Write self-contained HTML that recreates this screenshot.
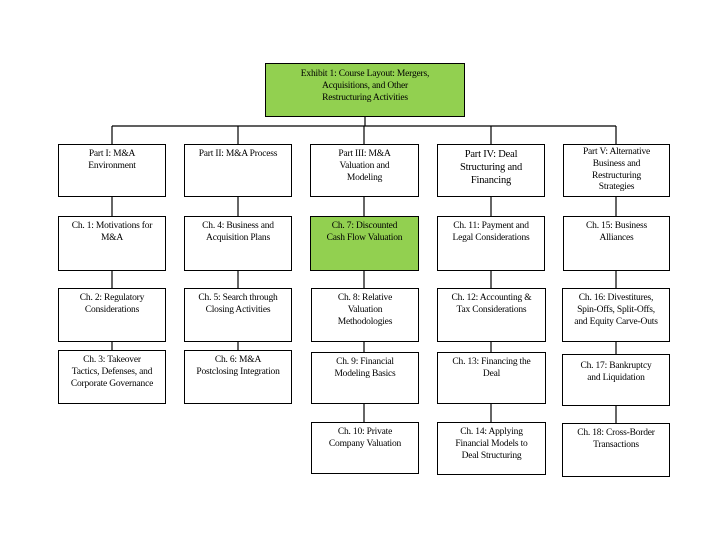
<!DOCTYPE html>
<html><head><meta charset="utf-8"><style>
body{margin:0;width:720px;height:540px;background:#fff;position:relative;overflow:hidden;font-family:"Liberation Serif",serif;}
.b{position:absolute;box-sizing:border-box;border:1px solid #000;background:#fff;text-align:center;font-size:9.5px;line-height:12px;padding-top:3px;color:#000;letter-spacing:-0.2px}
.g{background:#92d050}
svg{position:absolute;left:0;top:0}
</style></head><body>
<svg width="720" height="540"><g stroke="#000" stroke-width="1.2" fill="none">
<line x1="365" y1="117" x2="365" y2="126"/>
<line x1="112" y1="126" x2="616" y2="126"/>
<line x1="112" y1="126" x2="112" y2="144"/>
<line x1="238" y1="126" x2="238" y2="144"/>
<line x1="364" y1="126" x2="364" y2="144"/>
<line x1="491" y1="126" x2="491" y2="144"/>
<line x1="616" y1="126" x2="616" y2="144"/>
<line x1="112" y1="197" x2="112" y2="350"/>
<line x1="238" y1="197" x2="238" y2="350"/>
<line x1="364" y1="197" x2="364" y2="422"/>
<line x1="491" y1="197" x2="491" y2="422"/>
<line x1="616" y1="197" x2="616" y2="423"/>
</g></svg>
<div class="b g" style="left:265px;top:63px;width:200px;height:54px;padding-top:4px">Exhibit 1: Course Layout: Mergers,<br>Acquisitions, and Other<br>Restructuring Activities</div>

<div class="b" style="left:58px;top:144px;width:108px;height:53px">Part I: M&amp;A<br>Environment</div>
<div class="b" style="left:184px;top:144px;width:108px;height:53px">Part II: M&amp;A Process</div>
<div class="b" style="left:310px;top:144px;width:109px;height:53px">Part III: M&amp;A<br>Valuation and<br>Modeling</div>
<div class="b" style="left:437px;top:144px;width:108px;height:53px;font-size:10.5px;line-height:13px">Part IV: Deal<br>Structuring and<br>Financing</div>
<div class="b" style="left:563px;top:144px;width:107px;height:53px;line-height:11.8px;padding-top:2px">Part V: Alternative<br>Business and<br>Restructuring<br>Strategies</div>

<div class="b" style="left:58px;top:216px;width:108px;height:55px">Ch. 1: Motivations for<br>M&amp;A</div>
<div class="b" style="left:184px;top:216px;width:108px;height:55px">Ch. 4: Business and<br>Acquisition Plans</div>
<div class="b g" style="left:310px;top:216px;width:109px;height:55px">Ch. 7: Discounted<br>Cash Flow Valuation</div>
<div class="b" style="left:437px;top:216px;width:108px;height:55px">Ch. 11: Payment and<br>Legal Considerations</div>
<div class="b" style="left:563px;top:216px;width:107px;height:55px">Ch. 15: Business<br>Alliances</div>

<div class="b" style="left:58px;top:288px;width:108px;height:54px">Ch. 2: Regulatory<br>Considerations</div>
<div class="b" style="left:184px;top:288px;width:108px;height:54px">Ch. 5: Search through<br>Closing Activities</div>
<div class="b" style="left:311px;top:288px;width:108px;height:54px">Ch. 8: Relative<br>Valuation<br>Methodologies</div>
<div class="b" style="left:437px;top:288px;width:109px;height:54px">Ch. 12: Accounting &amp;<br>Tax Considerations</div>
<div class="b" style="left:562px;top:288px;width:108px;height:54px">Ch. 16: Divestitures,<br>Spin-Offs, Split-Offs,<br>and Equity Carve-Outs</div>

<div class="b" style="left:58px;top:350px;width:108px;height:54px">Ch. 3: Takeover<br>Tactics, Defenses, and<br>Corporate Governance</div>
<div class="b" style="left:184px;top:350px;width:108px;height:54px">Ch. 6: M&amp;A<br>Postclosing Integration</div>
<div class="b" style="left:311px;top:352px;width:108px;height:52px">Ch. 9: Financial<br>Modeling Basics</div>
<div class="b" style="left:437px;top:352px;width:109px;height:52px">Ch. 13: Financing the<br>Deal</div>
<div class="b" style="left:562px;top:354px;width:108px;height:52px;padding-top:5px">Ch. 17: Bankruptcy<br>and Liquidation</div>

<div class="b" style="left:311px;top:422px;width:108px;height:52px">Ch. 10: Private<br>Company Valuation</div>
<div class="b" style="left:437px;top:422px;width:109px;height:53px">Ch. 14: Applying<br>Financial Models to<br>Deal Structuring</div>
<div class="b" style="left:562px;top:423px;width:108px;height:54px">Ch. 18: Cross-Border<br>Transactions</div>
</body></html>
